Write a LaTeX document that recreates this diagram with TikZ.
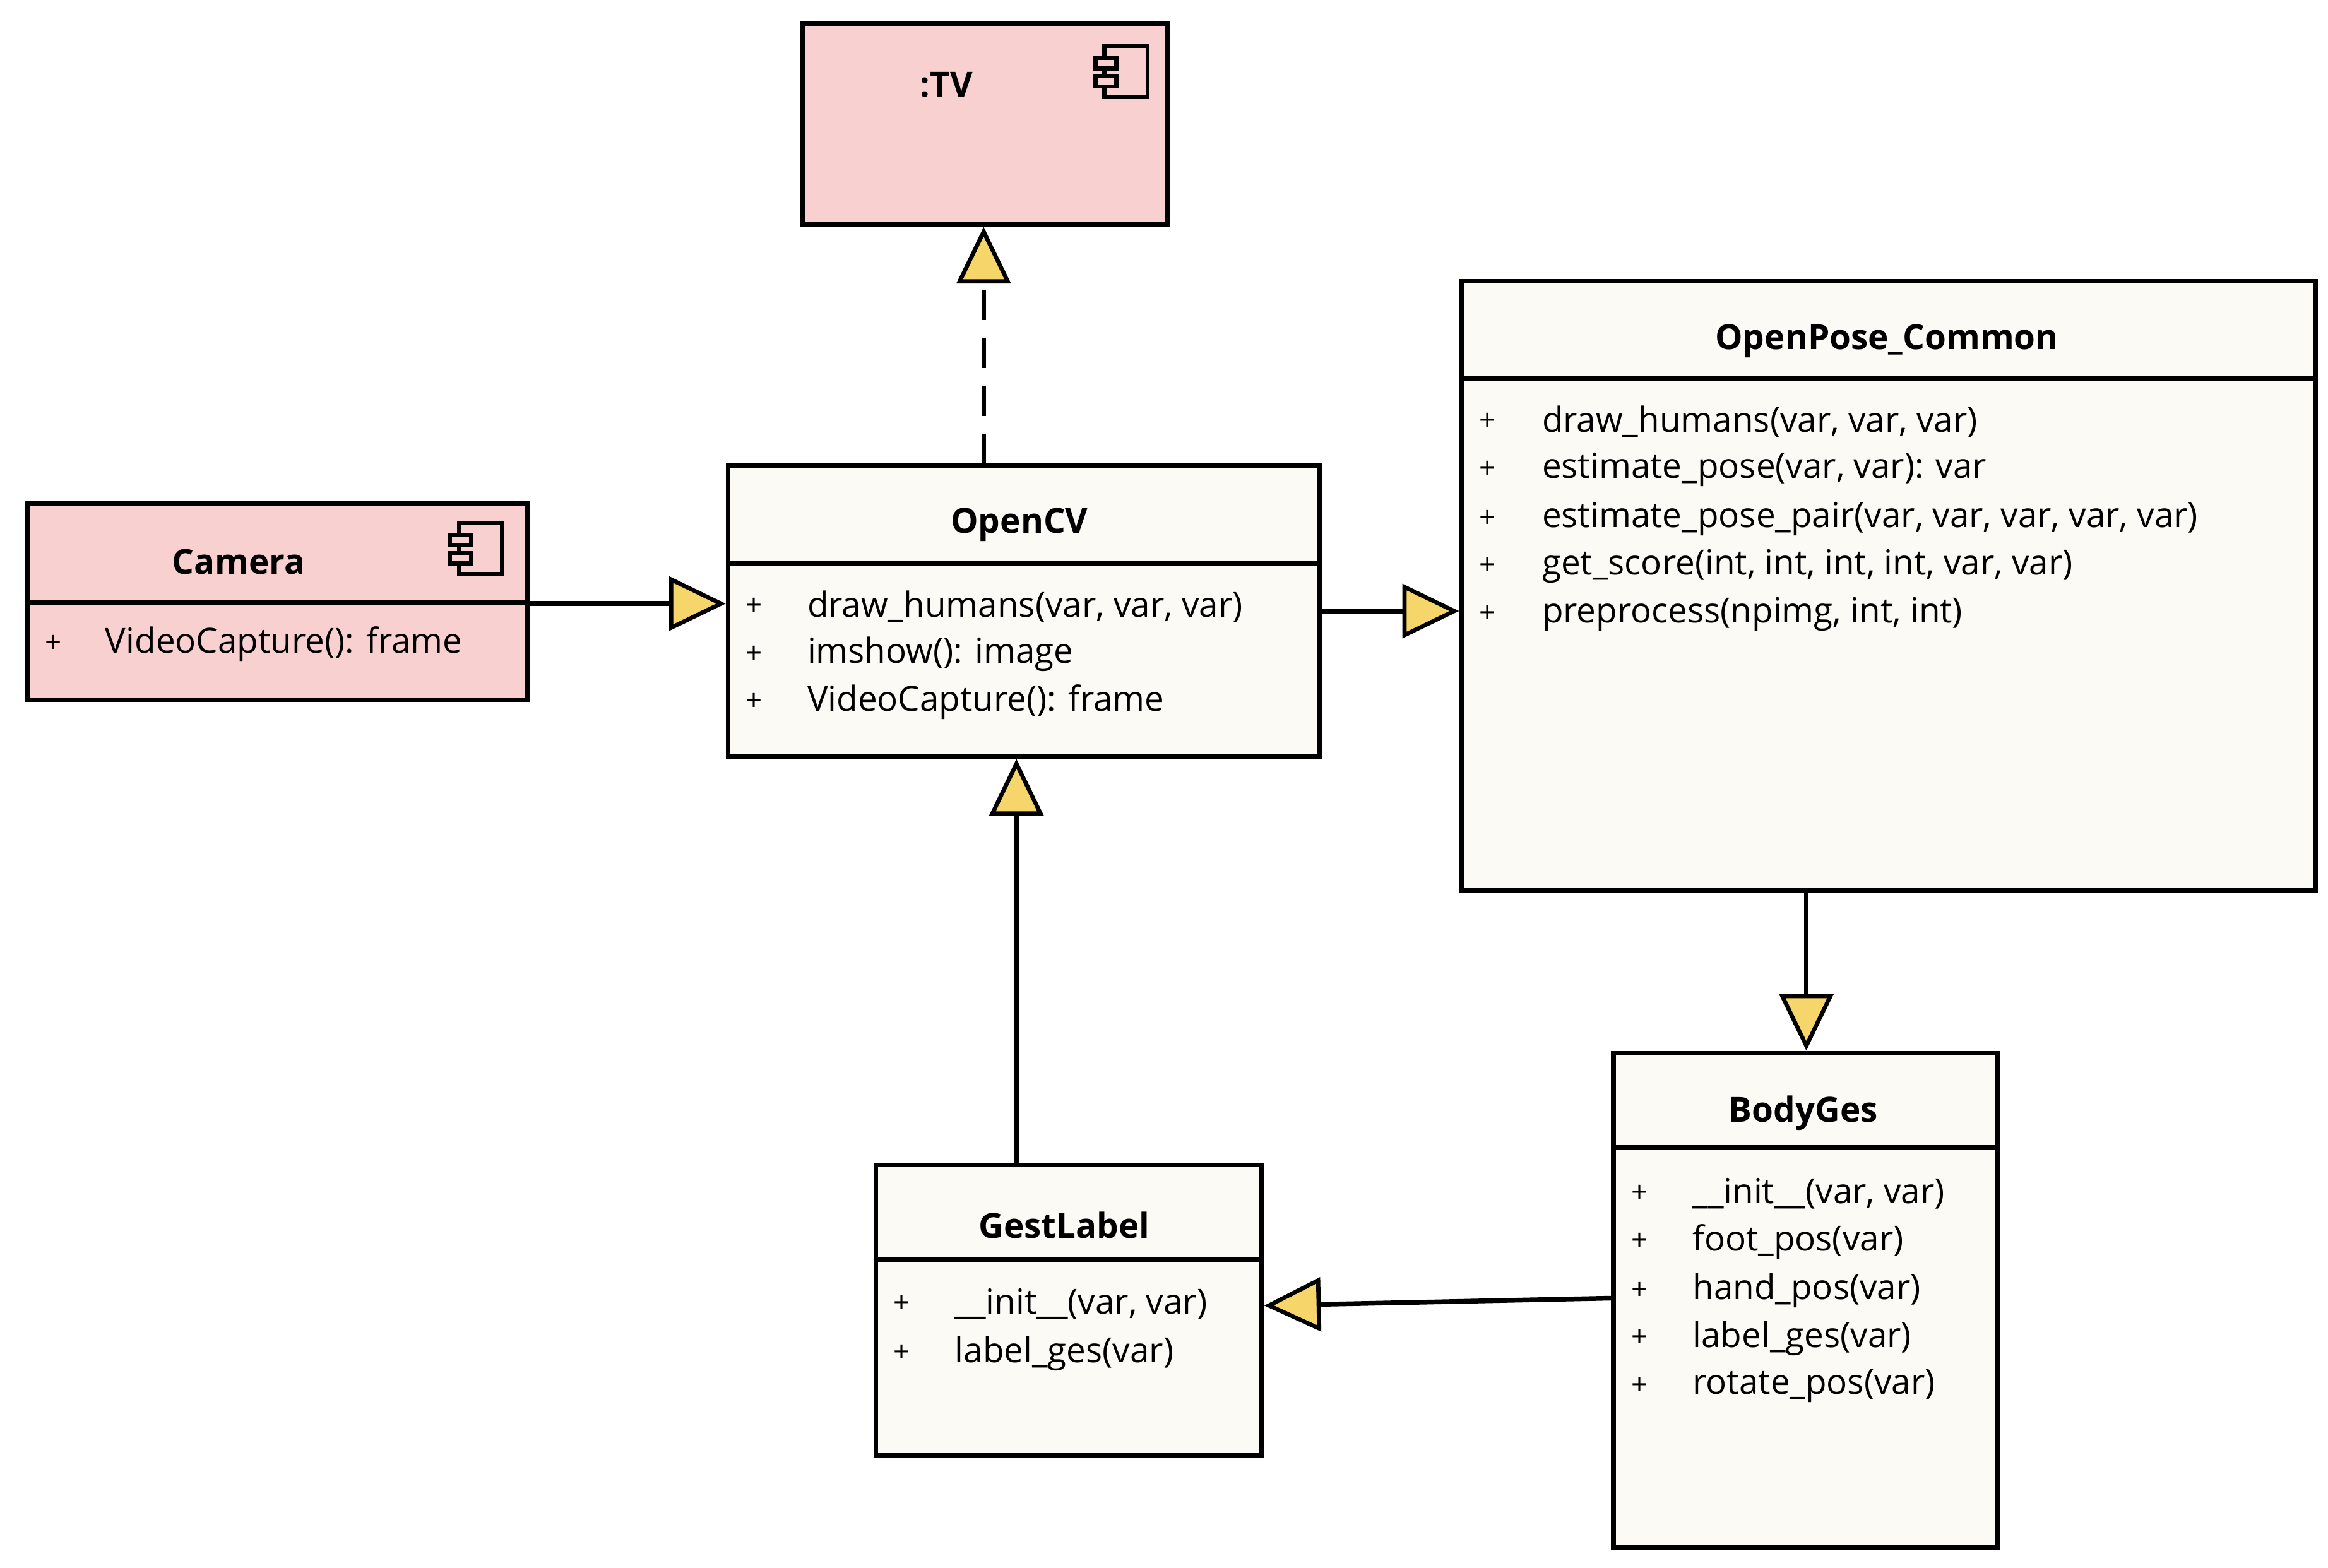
\documentclass[tikz,border=0pt]{standalone}
\usepackage{fontspec}
\setmainfont{Open Sans}
\usetikzlibrary{arrows.meta}
\definecolor{pinkf}{HTML}{F8D0D0}
\definecolor{creamf}{HTML}{FCFAF4}
\definecolor{tipy}{HTML}{F6D66A}
\tikzset{
 box/.style={draw=black,line width=0.9pt,anchor=north west,inner sep=0pt},
 title/.style={font=\bfseries\fontsize{6.6}{8}\selectfont},
 item/.style={font=\fontsize{6.6}{8}\selectfont,anchor=west,inner sep=0pt},
 plus/.style={font=\fontsize{5.5}{6}\selectfont,inner sep=0pt},
 conn/.style={line width=0.9pt,-{Triangle[length=0.38cm,width=0.36cm,fill=tipy,line width=0.8pt]}},
}
\newcommand{\mybox}[6]{% name, x1,y1,x2,y2, fill
 \node[box,fill=#6,minimum width={(#4-#2)*0.01cm},minimum height={(#5-#3)*0.01cm}] (#1) at (#2,#3) {};}
\newcommand{\compicon}[2]{%
 \draw[line width=0.8pt,fill=pinkf] (#1-14,#2-17) rectangle (#1+15,#2+17);
 \draw[line width=0.8pt,fill=pinkf] (#1-20,#2-9) rectangle (#1-6,#2-2);
 \draw[line width=0.8pt,fill=pinkf] (#1-20,#2+3) rectangle (#1-6,#2+10);}
\begin{document}
\begin{tikzpicture}[x=0.01cm,y=-0.01cm]
\useasboundingbox[fill=white] (0,0) rectangle (1562,1052);
% boxes
\mybox{tv}{537}{14}{782}{149}{pinkf}
\mybox{cam}{17}{336}{352}{468}{pinkf}
\mybox{cv}{487}{311}{884}{506}{creamf}
\mybox{op}{979}{187}{1552}{596}{creamf}
\mybox{bg}{1081}{705}{1339}{1037}{creamf}
\mybox{gl}{586}{780}{845}{975}{creamf}
% dividers
\draw[line width=0.9pt] (17,404) -- (352,404);
\draw[line width=0.9pt] (487,378) -- (884,378);
\draw[line width=0.9pt] (979,254) -- (1552,254);
\draw[line width=0.9pt] (1081,770) -- (1339,770);
\draw[line width=0.9pt] (586,845) -- (845,845);
% icons
\compicon{755}{48}
\compicon{322}{368}
% titles
\node[title] (tvt) at (635,57) {:TV};
\node[title] (camt) at (160,377) {Camera};
\node[title] (cvt) at (684,352) {OpenCV};
\node[title] (opt) at (1266,229) {OpenPose\_Common};
\node[title] (bgt) at (1210,747) {BodyGes};
\node[title] (glt) at (714,822) {GestLabel};
% items
\node[plus] at (36,432) {+}; \node[item] at (70,432) {VideoCapture(): frame};
\foreach \t/\y in {{draw\_humans(var, var, var)}/407,{imshow(): image}/439,{VideoCapture(): frame}/471}
 {\node[plus] at (506,\y) {+}; \node[item] at (541,\y) {\t};}
\foreach \t/\y in {{draw\_humans(var, var, var)}/283,{estimate\_pose(var, var): var}/315,{estimate\_pose\_pair(var, var, var, var, var)}/348,{get\_score(int, int, int, int, var, var)}/380,{preprocess(npimg, int, int)}/412}
 {\node[plus] at (998,\y) {+}; \node[item] at (1034,\y) {\t};}
\foreach \t/\y in {{\_\_init\_\_(var, var)}/801,{foot\_pos(var)}/833,{hand\_pos(var)}/866,{label\_ges(var)}/898,{rotate\_pos(var)}/930}
 {\node[plus] at (1100,\y) {+}; \node[item] at (1135,\y) {\t};}
\foreach \t/\y in {{\_\_init\_\_(var, var)}/875,{label\_ges(var)}/908}
 {\node[plus] at (605,\y) {+}; \node[item] at (640,\y) {\t};}
% connectors
\draw[conn] (cam.east |- 0,405) -- (cv.west |- 0,405);
\draw[conn] (cv.east |- 0,410) -- (op.west |- 0,410);
\draw[conn,dash pattern=on 0.2cm off 0.12cm] (cv.north -| 660,0) -- (tv.south -| 660,0);
\draw[conn] (gl.north -| 682,0) -- (cv.south -| 682,0);
\draw[conn] (op.south -| 1212,0) -- (bg.north -| 1212,0);
\draw[conn] (bg.west |- 0,871) -- (gl.east |- 0,876);
\end{tikzpicture}
\end{document}
